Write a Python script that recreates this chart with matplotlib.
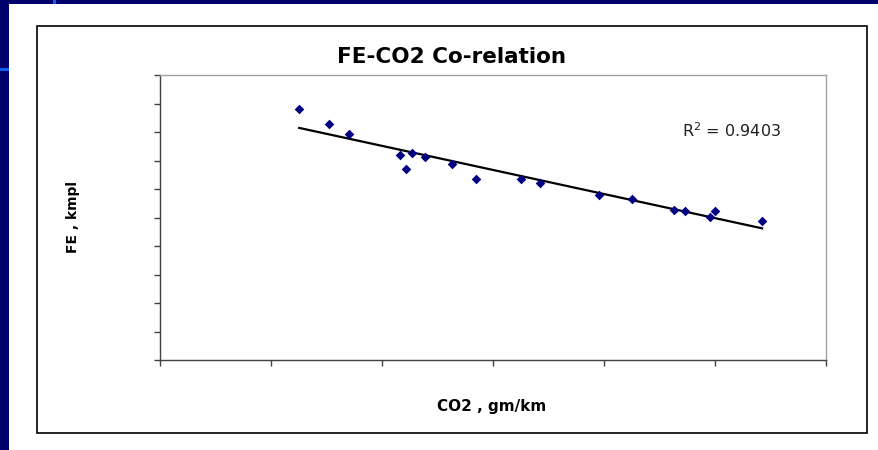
import numpy as np
import matplotlib
matplotlib.use("Agg")
import matplotlib.pyplot as plt
from matplotlib.patches import Rectangle

# Data (axis units chosen: CO2 0-300, FE 0-20)
co2 = [62.7, 76.0, 85.1, 108.1, 110.7, 113.5, 119.4, 131.4, 142.3,
       162.5, 171.2, 197.9, 212.7, 231.5, 236.6, 247.9, 250.1, 271.2]
fe = [17.61, 16.54, 15.88, 14.41, 13.37, 14.56, 14.22, 13.75, 12.68,
      12.68, 12.42, 11.56, 11.32, 10.55, 10.44, 10.04, 10.46, 9.78]
r2_text = "R$^2$ = 0.9403"
title = "FE-CO2 Co-relation"
xlabel = "CO2 , gm/km"
ylabel = "FE , kmpl"

W, H = 879, 450
fig = plt.figure(figsize=(W / 100, H / 100), dpi=100, facecolor="white")

def fx(px):
    return px / W

def fy(py):
    return 1 - py / H

navy = "#00006B"
# slide background strips
fig.patches.append(Rectangle((0, 0), fx(9), 1, transform=fig.transFigure,
                             facecolor=navy, edgecolor="none", zorder=0))
fig.patches.append(Rectangle((0, fy(4)), 1, 4 / H, transform=fig.transFigure,
                             facecolor=navy, edgecolor="none", zorder=0))
fig.patches.append(Rectangle((0, fy(71)), fx(9), 3 / H, transform=fig.transFigure,
                             facecolor="#1060F0", edgecolor="none", zorder=0.2))
fig.patches.append(Rectangle((fx(53), fy(4)), fx(3), 4 / H, transform=fig.transFigure,
                             facecolor="#1060F0", edgecolor="none", zorder=0.2))
# chart border
fig.patches.append(Rectangle((fx(37), fy(433)), fx(867 - 37), (433 - 26) / H,
                             transform=fig.transFigure, facecolor="white",
                             edgecolor="black", linewidth=1.2, zorder=0.5))

ax = fig.add_axes([fx(160), fy(360), fx(826 - 160), (360 - 75) / H])
ax.set_zorder(2)
ax.set_facecolor("white")
ax.set_xlim(0, 300)
ax.set_ylim(0, 20)
ax.set_xticks(np.arange(0, 301, 50))
ax.set_yticks(np.arange(0, 21, 2))
ax.tick_params(axis="both", which="both", direction="out", length=4,
               width=1, color="#404040", labelleft=False, labelbottom=False)
for s in ("left", "bottom"):
    ax.spines[s].set_color("#404040")
    ax.spines[s].set_linewidth(1.0)
for s in ("top", "right"):
    ax.spines[s].set_color("#A0A0A0")
    ax.spines[s].set_linewidth(1.0)

ax.scatter(co2, fe, marker="D", s=24, color="#000080", zorder=3, linewidths=0)

coef = np.polyfit(co2, fe, 1)
xs = np.array([min(co2), max(co2)])
ax.plot(xs, np.polyval(coef, xs), color="black", linewidth=1.6, zorder=2)

fig.text(fx(682), fy(131), r2_text, fontsize=11.5, color="#202020",
         ha="left", va="center", zorder=5)
fig.text(fx(452), fy(57), title, fontsize=15.5, fontweight="bold",
         ha="center", va="center", zorder=5)
fig.text(fx(492), fy(407), xlabel, fontsize=11, fontweight="bold",
         ha="center", va="center", zorder=5)
fig.text(fx(73), fy(217), ylabel, fontsize=10, fontweight="bold",
         ha="center", va="center", rotation=90, zorder=5)

fig.savefig("out.png", dpi=100, facecolor="white")
